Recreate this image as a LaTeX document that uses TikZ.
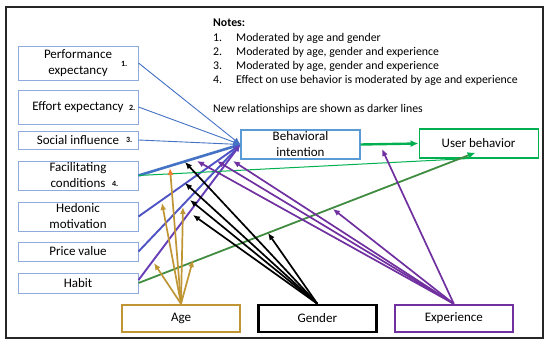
\documentclass[tikz,border=0pt]{standalone}
\usepackage{fontspec}
\setmainfont{Carlito}
\usepackage{array}
\usetikzlibrary{arrows.meta,positioning}
\definecolor{lineblue}{RGB}{68,114,196}
\definecolor{boxblue}{RGB}{143,170,220}
\definecolor{bibox}{RGB}{91,155,213}
\definecolor{newblue}{RGB}{78,84,196}
\definecolor{newpurple}{RGB}{104,62,184}
\definecolor{ubgreen}{RGB}{0,176,80}
\definecolor{habitgreen}{RGB}{64,140,64}
\definecolor{agegold}{RGB}{192,150,52}
\definecolor{ageorange}{RGB}{237,125,49}
\definecolor{exppurple}{RGB}{112,48,160}
\tikzset{
  constbox/.style ={draw=boxblue,line width=1pt,align=center,inner sep=0pt,
                    font=\fontsize{13}{16}\selectfont,minimum width=120pt},
  outbox/.style   ={draw,line width=1.1pt,align=center,inner sep=0pt,
                    font=\fontsize{13}{16}\selectfont,minimum width=119pt,minimum height=29pt},
  modbox/.style   ={draw,line width=2.4pt,align=center,inner sep=0pt,
                    font=\fontsize{13}{16}\selectfont,minimum width=118pt,minimum height=27pt},
  numlbl/.style   ={font=\bfseries\fontsize{8}{9}\selectfont,inner sep=0pt},
  notes/.style    ={font=\fontsize{11.8}{14.3}\selectfont,inner sep=0pt,anchor=north west},
  oldlink/.style  ={lineblue,line width=0.9pt,-{Latex[length=7pt,width=6pt]}},
  newlink/.style  ={line width=1.9pt,-{Latex[length=7pt,width=6pt]}},
  modarrow/.style ={line width=1.7pt,-{Latex[length=7pt,width=6pt]}},
}

\begin{document}
\begin{tikzpicture}[x=1pt,y=-1pt]
\useasboundingbox (0,0) rectangle (550,348);
\fill[white] (0,0) rectangle (550,348);
\draw[line width=1.4pt,black!85] (6,7) rectangle (543,338);
% notes
\node[notes] (notes) at (213,16.5) {\begin{tabular}{@{}p{23pt}@{}l@{}}
  \multicolumn{2}{@{}l@{}}{\textbf{Notes:}}\\
  1.&Moderated by age and gender\\
  2.&Moderated by age, gender and experience\\
  3.&Moderated by age, gender and experience\\
  4.&Effect on use behavior is moderated by age and experience\\[14.3pt]
  \multicolumn{2}{@{}l@{}}{New relationships are shown as darker lines}
\end{tabular}};
% constructs
\node[constbox,minimum height=34pt] (pe) at (78,63) {Performance\\expectancy};
\node[constbox,minimum height=34pt,below=9pt of pe] (ee) {Effort expectancy};
\node[constbox,minimum height=18pt,below=6pt of ee] (si) {Social influence};
\node[constbox,minimum height=29pt,below=11pt of si] (fc) {Facilitating\\conditions};
\node[constbox,minimum height=29pt,below=11pt of fc] (hm) {Hedonic\\motivation};
\node[constbox,minimum height=19pt,below=10pt of hm] (pv) {Price value};
\node[constbox,minimum height=20pt,below=11pt of pv] (habit) {Habit};
\node[numlbl,left=11pt of pe.east,yshift=-1pt] (n1) {1.};
\node[numlbl,left=3pt of ee.east,yshift=-1pt] (n2) {2.};
\node[numlbl,left=6pt of si.east] (n3) {3.};
\node[numlbl,left=20pt of fc.east,yshift=-8.5pt] (n4) {4.};
% outcomes
\node[outbox,draw=bibox] (bi) at (300.5,144.5) {Behavioral\\intention};
\node[outbox,draw=ubgreen,right=58pt of bi,yshift=1pt] (ub) {User behavior};
% moderators
\node[modbox,draw=agegold] (age) at (181,318.5) {Age};
\node[modbox,right=16pt of age] (gender) {Gender};
\node[modbox,draw=exppurple,right=16pt of gender] (exp) {Experience};
% links
\foreach \n in {pe,ee,si} \draw[oldlink] (\n.east) -- (bi.west);
\draw[newlink,lineblue,line width=2.6pt] (fc.east) -- (bi.west);
\draw[newlink,newblue] (hm.east) -- (bi.west);
\draw[newlink,newblue] (pv.east) -- (bi.west);
\draw[newlink,newpurple] ([yshift=3pt]habit.east) -- (bi.west);
\draw[ubgreen,line width=1pt] (fc.east) -- ([xshift=-10pt]ub.south);
\draw[habitgreen,line width=1.8pt,-{Latex[length=8pt,width=7pt,color=ubgreen]}]
  (habit.east) -- ([xshift=-3pt,yshift=6pt]ub.south);
\draw[ubgreen,line width=2.4pt,-{Latex[length=8pt,width=7pt]}] (bi.east) -- (ub.west);
% moderating effects
\foreach \n/\x/\y in {a1/170/168,a2/162/203,a3/183/207,a4/154/263,a5/193/260,
                      g1/185/162,g2/185/183,g3/190/200,g4/193/215,g5/268/233,
                      e1/197/161,e2/217/161,e3/233/161,e4/333/209,e5/382/149}
  \coordinate (\n) at (\x,\y);
\draw[modarrow,agegold,-{Latex[length=7pt,width=6pt,color=ageorange]}] (age.north) -- (a1);
\foreach \n in {a2,a3,a4,a5} \draw[modarrow,agegold] (age.north) -- (\n);
\foreach \n in {g1,g2,g3,g4,g5} \draw[modarrow,black] (gender.north) -- (\n);
\foreach \n in {e1,e2,e3,e4,e5} \draw[modarrow,exppurple] (exp.north) -- (\n);
\end{tikzpicture}
\end{document}
